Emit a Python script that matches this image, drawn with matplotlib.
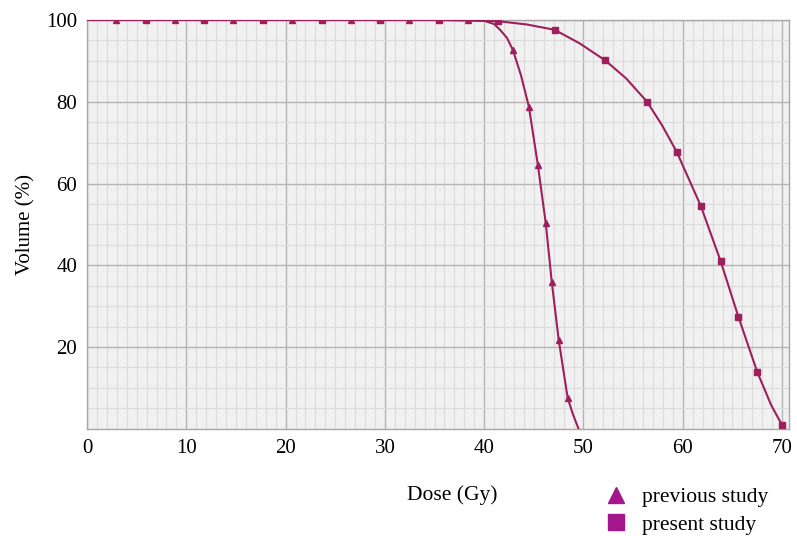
import matplotlib.pyplot as plt
from matplotlib.lines import Line2D

# previous study (triangles) - curve trace, markers at flagged points
prev_dose = [0, 2.95, 8.85, 14.75, 20.65, 26.55, 32.45, 38.35, 40.0, 41.0, 41.6, 42.3,
             42.9, 43.7, 44.5, 45.4, 46.2, 46.8, 47.5, 48.4, 48.9, 49.5]
prev_vol = [100, 100, 100, 100, 100, 100, 100, 100, 99.8, 99.0, 97.6, 95.6,
            92.6, 86.5, 78.8, 64.6, 50.3, 36.0, 21.8, 7.6, 3.8, 0]
prev_marked = [1, 2, 3, 4, 5, 6, 7, 12, 14, 15, 16, 17, 18, 19]

# present study (squares) - curve trace, markers at flagged points
pres_dose = [0, 5.94, 11.8, 17.7, 23.7, 29.5, 35.4, 41.4, 44.3, 47.1, 49.6, 52.2,
             54.3, 56.4, 57.9, 59.4, 61.8, 63.8, 65.6, 67.5, 68.9, 70.0]
pres_vol = [100, 100, 100, 100, 100, 100, 100, 99.7, 98.9, 97.6, 94.3, 90.1,
            85.7, 80.0, 74.3, 67.7, 54.6, 41.1, 27.4, 13.9, 5.8, 0.9]
pres_marked = [1, 2, 3, 4, 5, 6, 7, 9, 11, 13, 15, 16, 17, 18, 19, 21]

x_ticks = [0, 10, 20, 30, 40, 50, 60, 70]
y_ticks = [20, 40, 60, 80, 100]

line_color = "#9e1f5c"
legend_color = "#a3168c"

plt.rcParams['font.family'] = ['Liberation Serif', 'DejaVu Serif']

fig = plt.figure(figsize=(7.97, 5.36), dpi=100)
ax = fig.add_axes([0.1092, 0.2, 0.8808, 0.7627])
ax.set_facecolor("#f1f1f1")

ax.plot(prev_dose, prev_vol, color=line_color, lw=1.5, marker="^", ms=4.5,
        markevery=prev_marked, zorder=3)
ax.plot(pres_dose, pres_vol, color=line_color, lw=1.5, marker="s", ms=4.5,
        markevery=pres_marked, zorder=3)

ax.set_xlim(0, 70.7)
ax.set_ylim(0, 100)
ax.set_xticks(x_ticks)
ax.set_yticks(y_ticks)
ax.set_xticks(range(0, 71), minor=True)
ax.set_yticks(range(0, 101, 5), minor=True)
ax.grid(which="minor", color="#dcdcdc", lw=0.8)
ax.grid(which="major", color="#b4b4b4", lw=1.0)
ax.set_axisbelow(True)
ax.tick_params(which="both", length=0, labelsize=15, pad=7)
for s in ax.spines.values():
    s.set_color("#a8a8a8")
    s.set_linewidth(1.0)

ax.set_ylabel("Volume (%)", fontsize=15, labelpad=8)
fig.text(0.568, 0.076, "Dose (Gy)", fontsize=15.5, ha="center", va="center")

handles = [Line2D([], [], ls="none", marker="^", ms=12, color=legend_color),
           Line2D([], [], ls="none", marker="s", ms=12, color=legend_color)]
fig.legend(handles, ["previous study", "present study"], loc="center left",
           bbox_to_anchor=(0.733, 0.047), frameon=False, fontsize=15.5,
           handletextpad=0.6, labelspacing=0.35, handlelength=1.2)

plt.savefig("out.png", dpi=100)
